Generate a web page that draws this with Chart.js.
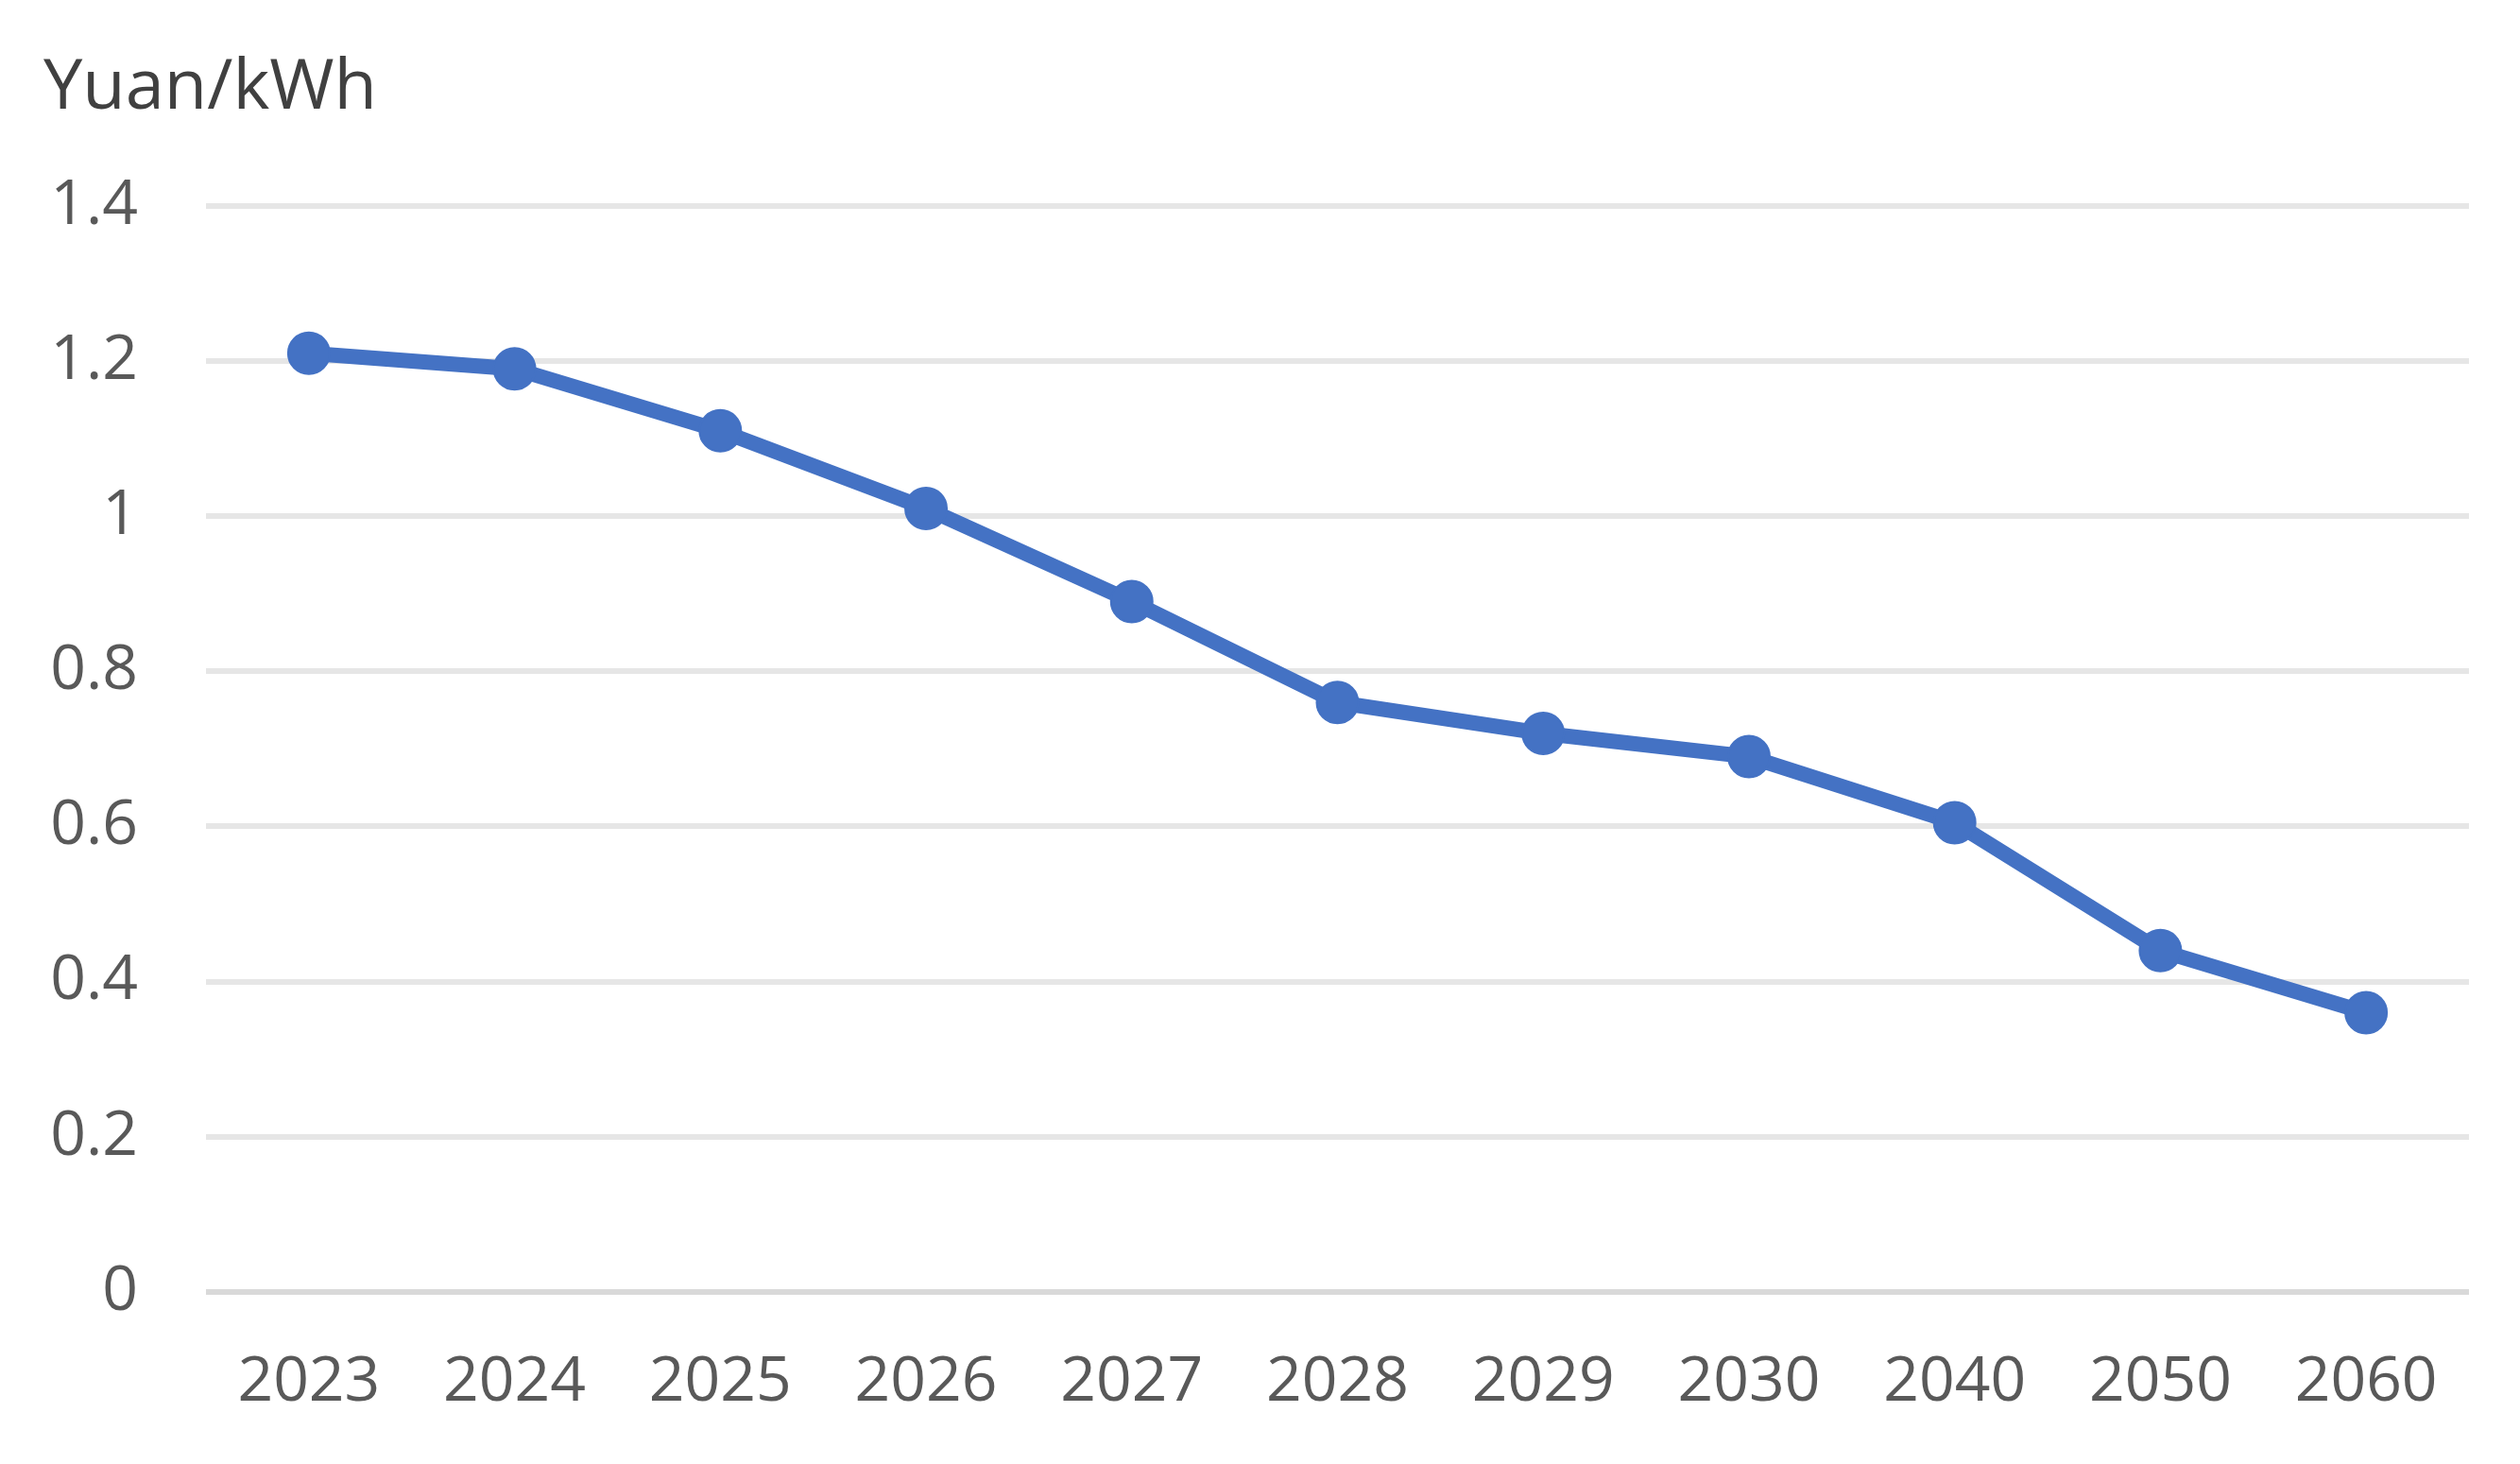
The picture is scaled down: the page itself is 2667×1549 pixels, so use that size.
<!DOCTYPE html>
<html>
<head>
<meta charset="utf-8">
<script src="https://cdn.jsdelivr.net/npm/chart.js@4.4.1/dist/chart.umd.min.js"></script>
<style>
  html, body { margin: 0; padding: 0; background: #fff; }
  #wrap { width: 2667px; height: 1549px; position: relative; }
</style>
</head>
<body>
<div id="wrap"><canvas id="chart"></canvas></div>
<script>
"use strict";

// Data
const years = ["2023", "2024", "2025", "2026", "2027", "2028", "2029", "2030", "2040", "2050", "2060"];
const price = [1.21, 1.19, 1.11, 1.01, 0.89, 0.76, 0.72, 0.69, 0.605, 0.44, 0.36];
const yTicks = [0, 0.2, 0.4, 0.6, 0.8, 1, 1.2, 1.4];
const unitLabel = "Yuan/kWh";

const LINE_BLUE = "#4472C4";
const FONT = "'Open Sans', 'Noto Sans', sans-serif";

const ctx = document.getElementById("chart").getContext("2d");

new Chart(ctx, {
  type: "line",
  data: {
    labels: years,
    datasets: [{
      label: unitLabel,
      data: price,
      borderColor: LINE_BLUE,
      backgroundColor: LINE_BLUE,
      borderWidth: 16,
      pointRadius: 22,
      pointBorderWidth: 2,
      pointBackgroundColor: LINE_BLUE,
      pointBorderColor: LINE_BLUE,
      tension: 0,
    }],
  },
  options: {
    responsive: true,
    maintainAspectRatio: false,
    animation: false,
    layout: { padding: { left: 46, right: 54, top: 50, bottom: 0 } },
    plugins: {
      legend: { display: false },
      tooltip: { enabled: false },
      title: {
        display: true,
        text: unitLabel,
        align: "start",
        color: "#404040",
        font: { family: FONT, size: 74, weight: "normal" },
        padding: { top: 0, bottom: 79 },
      },
    },
    scales: {
      x: {
        offset: true,
        border: { display: false },
        grid: { display: false, drawTicks: false },
        ticks: {
          color: "#595959",
          padding: 57,
          font: { family: FONT, size: 66 },
        },
        afterFit: scale => { scale.height = 182; },
      },
      y: {
        min: 0,
        max: 1.4,
        border: { display: false },
        grid: {
          drawTicks: false,
          lineWidth: 6,
          color: c => (c.tick && c.tick.value === 0 ? "#d9d9d9" : "#e6e6e6"),
        },
        afterBuildTicks: scale => {
          scale.ticks = yTicks.map(v => ({ value: v }));
        },
        ticks: {
          color: "#595959",
          padding: 72,
          font: { family: FONT, size: 66 },
          callback: v => String(Number(v.toFixed(1))),
        },
        afterFit: scale => { scale.width = 172; },
      },
    },
  },
});
</script>
</body>
</html>
